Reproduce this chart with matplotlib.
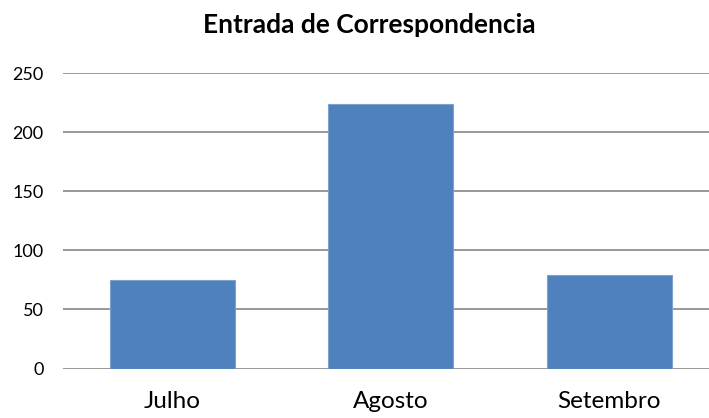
import matplotlib
matplotlib.use("Agg")
import matplotlib.pyplot as plt

categories = ["Julho", "Agosto", "Setembro"]
values = [75, 224, 79]
yticks = [0, 50, 100, 150, 200, 250]

plt.rcParams['font.family'] = ['Lato', 'DejaVu Sans']

W, H = 709, 418
fig = plt.figure(figsize=(W / 100, H / 100), dpi=100)
left, right = 63, 718.5
y0, y250 = 368.5, 73
ax = fig.add_axes([left / W, (H - y0) / H, (right - left) / W, (y0 - y250) / H])

ax.bar(range(len(categories)), values, width=0.57, color="#4F81BD",
       edgecolor="#7FA1CF", linewidth=0.8, zorder=3)

ax.set_xlim(-0.5, len(categories) - 0.5)
ax.set_ylim(0, 250)
ax.set_yticks(yticks)
ax.set_xticks(range(len(categories)))
ax.set_xticklabels(categories, fontsize=17.5)
ax.tick_params(axis='y', length=0, pad=14, labelsize=13)
ax.tick_params(axis='x', length=0, pad=16)
ax.yaxis.grid(True, color="#868686", linewidth=1.2, zorder=0)
for s in ax.spines.values():
    s.set_visible(False)

fig.text(369 / W, 1 - 25 / H, "Entrada de Correspondencia", ha="center", va="center",
         fontsize=19, fontweight="bold")

fig.savefig("out.png", dpi=100)
